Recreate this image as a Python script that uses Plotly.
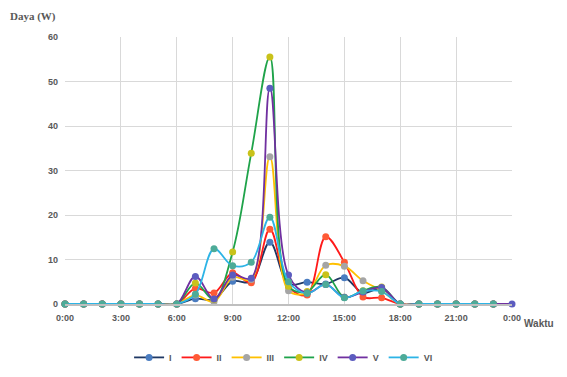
import plotly.graph_objects as go

hours = list(range(24))
hours_v = list(range(25))
tick_vals = [0, 3, 6, 9, 12, 15, 18, 21, 24]
tick_text = ["0:00", "3:00", "6:00", "9:00", "12:00", "15:00", "18:00", "21:00", "0:00"]

s_I = [0, 0, 0, 0, 0, 0, 0, 1.2, 1.0, 5.1, 5.0, 13.9, 4.5, 4.9, 4.5, 5.9, 2.5, 3.5, 0, 0, 0, 0, 0, 0]
s_II = [0, 0, 0, 0, 0, 0, 0, 3.5, 2.5, 7.0, 4.8, 16.8, 3.9, 2.0, 15.1, 9.4, 1.6, 1.4, 0, 0, 0, 0, 0, 0]
s_III = [0, 0, 0, 0, 0, 0, 0, 2.0, 0.5, 6.0, 5.5, 33.1, 3.0, 2.5, 8.7, 8.5, 5.2, 3.0, 0, 0, 0, 0, 0, 0]
s_IV = [0, 0, 0, 0, 0, 0, 0, 4.7, 1.0, 11.7, 33.9, 55.5, 4.0, 2.8, 6.6, 1.5, 3.0, 3.8, 0, 0, 0, 0, 0, 0]
s_V = [0, 0, 0, 0, 0, 0, 0, 6.2, 1.1, 6.5, 5.8, 48.5, 6.5, 2.5, 4.4, 1.5, 2.7, 3.7, 0, 0, 0, 0, 0, 0, 0]
s_VI = [0, 0, 0, 0, 0, 0, 0, 2.2, 12.4, 8.6, 9.4, 19.5, 5.0, 2.4, 4.4, 1.4, 2.9, 2.8, 0, 0, 0, 0, 0, 0]

series = [
    ("I", hours, s_I, "#1f3864", "#4a7cc0"),
    ("II", hours, s_II, "#ff1a1a", "#ff5a36"),
    ("III", hours, s_III, "#ffc000", "#a5a5a5"),
    ("IV", hours, s_IV, "#1fa34a", "#c9c21a"),
    ("V", hours_v, s_V, "#7030a0", "#5c5cbf"),
    ("VI", hours, s_VI, "#2db4e6", "#4dab98"),
]

fig = go.Figure()
for name, xs, ys, lc, mc in series:
    fig.add_trace(go.Scatter(
        x=xs, y=ys, name=name, mode="lines+markers",
        line=dict(color=lc, width=1.8, shape="spline", smoothing=1.0),
        marker=dict(color=mc, size=7, line=dict(color=mc, width=0)),
        cliponaxis=False,
    ))

fig.update_layout(
    width=559, height=369,
    margin=dict(l=57, r=55, t=29, b=73, autoexpand=False),
    plot_bgcolor="white", paper_bgcolor="white",
    font=dict(family="Liberation Sans, Arial, sans-serif", color="#595959", size=9),
    showlegend=True,
    legend=dict(orientation="h", x=0.489, xanchor="center",
                y=-0.2, yanchor="middle",
                font=dict(size=9, weight="bold", color="#595959"),
                itemwidth=30, tracegroupgap=0),
    xaxis=dict(range=[0, 24], tickvals=tick_vals, ticktext=tick_text,
               showgrid=True, gridcolor="#d9d9d9", gridwidth=1,
               showline=True, linecolor="#bfbfbf", linewidth=1.5,
               zeroline=False, ticks="", tickangle=0, ticklabelstandoff=4,
               tickfont=dict(size=9, weight="bold", color="#595959")),
    yaxis=dict(range=[0, 60], dtick=10, showgrid=True, gridcolor="#d9d9d9",
               gridwidth=1, zeroline=False, showline=False, ticks="",
               ticklabelstandoff=6,
               tickfont=dict(size=9, weight="bold", color="#595959")),
    annotations=[
        dict(text="Daya (W)", xref="paper", yref="paper", x=-0.128, y=1.078,
             xanchor="left", yanchor="middle", showarrow=False,
             font=dict(family="Liberation Serif, Times New Roman, serif", size=11,
                       weight="bold", color="#595959")),
        dict(text="Waktu", xref="paper", yref="paper", x=1.022, y=-0.073,
             xanchor="left", yanchor="middle", showarrow=False,
             font=dict(family="Liberation Sans, Arial, sans-serif", size=10,
                       weight="bold", color="#595959")),
    ],
)

fig.write_html("out.html")
